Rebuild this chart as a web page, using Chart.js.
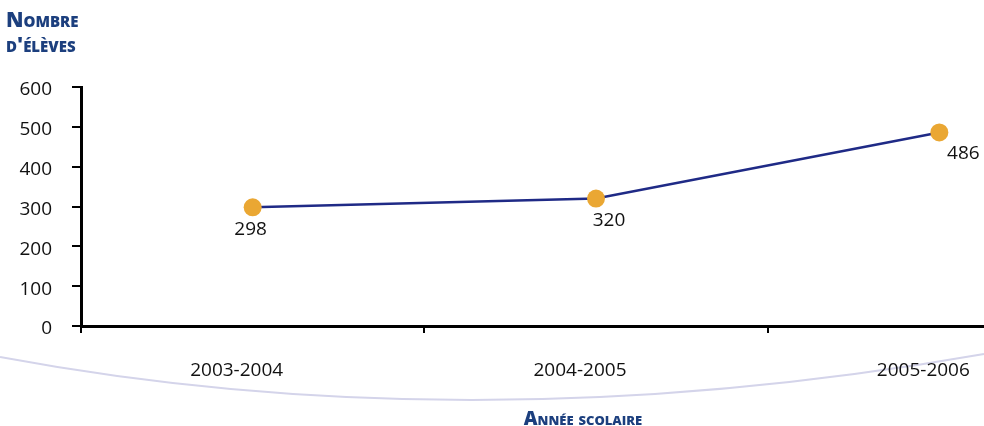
<!DOCTYPE html>
<html>
<head>
<meta charset="utf-8">
<script src="https://cdn.jsdelivr.net/npm/chart.js@4.4.1/dist/chart.umd.min.js"></script>
<style>
  html, body { margin: 0; padding: 0; background: #fff; overflow: hidden; width: 984px; height: 426px; }
  #wrap { position: absolute; left: 0; top: 0; width: 1120px; height: 426px; }
</style>
</head>
<body>
<div id="wrap"><canvas id="c" width="1120" height="426"></canvas></div>
<script>
// School years and enrolment counts
const categories = ['2003-2004', '2004-2005', '2005-2006'];
const eleves = [298, 320, 486];
const yTicks = [0, 100, 200, 300, 400, 500, 600];
const yTitle = ['Nombre', "d'élèves"];
const xTitle = 'Année scolaire';

const NAVY = '#1c3f7e';
const LINE = '#1f2a86';
const DOT = '#eaa733';
const FONT = '"Open Sans", "Noto Sans", sans-serif';

// Value labels placed just under each point
const valueLabelOffsets = [[-2, 22], [13, 22], [24, 21]];

const decorPlugin = {
  id: 'decor',
  beforeDraw(chart) {
    const ctx = chart.ctx;
    // soft curved band under the axis labels
    ctx.save();
    ctx.strokeStyle = '#d4d4ea';
    ctx.lineWidth = 2.2;
    ctx.beginPath();
    ctx.moveTo(0, 357);
    ctx.quadraticCurveTo(468, 444.5, 984, 354);
    ctx.stroke();
    ctx.restore();
  },
  afterDraw(chart) {
    const ctx = chart.ctx;
    ctx.save();
    // axis titles
    ctx.fillStyle = NAVY;
    ctx.font = 'small-caps 800 21px ' + FONT;
    ctx.textAlign = 'left';
    ctx.textBaseline = 'alphabetic';
    ctx.fillText(yTitle[0], 6, 27);
    ctx.fillText(yTitle[1], 6, 52);
    ctx.font = 'small-caps 800 19px ' + FONT;
    ctx.textAlign = 'center';
    ctx.fillText(xTitle, 583, 425);

    // point values
    const meta = chart.getDatasetMeta(0);
    ctx.fillStyle = '#111';
    ctx.font = '19px ' + FONT;
    ctx.textBaseline = 'middle';
    meta.data.forEach((pt, i) => {
      const [dx, dy] = valueLabelOffsets[i];
      ctx.fillText(String(eleves[i]), pt.x + dx, pt.y + dy);
    });
    ctx.restore();
  }
};

new Chart(document.getElementById('c'), {
  type: 'line',
  data: {
    labels: categories,
    datasets: [{
      data: eleves,
      borderColor: LINE,
      borderWidth: 2.5,
      pointBackgroundColor: DOT,
      pointBorderColor: DOT,
      pointRadius: 9,
      pointBorderWidth: 0,
      tension: 0,
      clip: false
    }]
  },
  options: {
    responsive: false,
    animation: false,
    devicePixelRatio: 1,
    layout: { padding: { top: 87, right: 8, left: 0, bottom: 0 } },
    plugins: { legend: { display: false }, tooltip: { enabled: false } },
    scales: {
      x: {
        type: 'category',
        offset: true,
        border: { display: true, color: '#000', width: 3 },
        grid: { display: true, offset: true, drawOnChartArea: false, drawTicks: true, tickLength: 7, color: '#000', lineWidth: 2 },
        ticks: { color: '#111', font: { family: FONT, size: 19 }, padding: 26, labelOffset: -16, maxRotation: 0 },
        afterFit(scale) { scale.height = 100; }
      },
      y: {
        min: 0,
        max: 600,
        afterBuildTicks(scale) { scale.ticks = yTicks.map(v => ({ value: v })); },
        border: { display: true, color: '#000', width: 3 },
        grid: { display: true, drawOnChartArea: false, drawTicks: true, tickLength: 9, color: '#000', lineWidth: 2 },
        ticks: { color: '#111', font: { family: FONT, size: 19 }, padding: 20, labelOffset: 3 },
        afterFit(scale) { scale.width = 81; }
      }
    }
  },
  plugins: [decorPlugin]
});
</script>
</body>
</html>
